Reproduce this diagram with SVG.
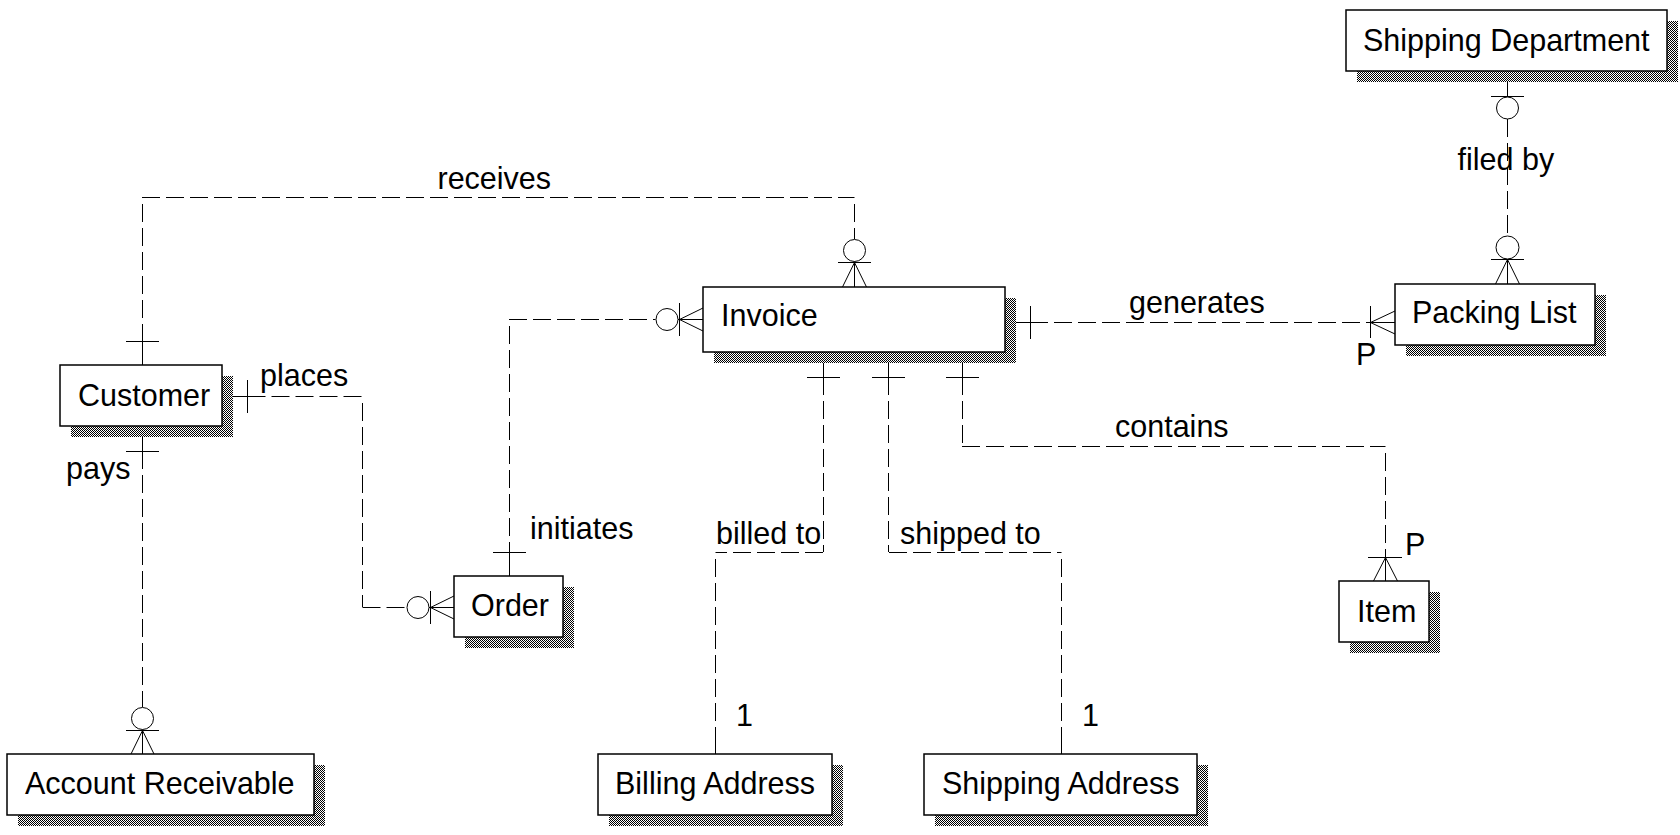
<svg xmlns="http://www.w3.org/2000/svg" width="1680" height="835" viewBox="0 0 1680 835">
<style>
text{font-family:"Liberation Sans",Arial,sans-serif;font-size:30.5px;fill:#000}
.box{fill:#fff;stroke:#000;stroke-width:1.5}
.sh{fill:url(#dither)}
.d{fill:none;stroke:#000;stroke-width:1;stroke-dasharray:18 6}
.s{fill:none;stroke:#000;stroke-width:1}
</style>
<defs>
<pattern id="dither" width="2" height="2" patternUnits="userSpaceOnUse">
<rect width="2" height="2" fill="#fff"/>
<rect width="1" height="1" fill="#000"/>
<rect x="1" y="1" width="1" height="1" fill="#000"/>
</pattern>
</defs>
<rect width="1680" height="835" fill="#fff"/>

<g id="connectors">
<g id="rel-receives">
<path class="d" d="M142.5,204 V341 M142,197.5 H854.5 M854.5,204 V239"/>
<path class="s" d="M142.5,341 V365 M126,341.5 H159"/>
<circle class="s" cx="854.5" cy="250.5" r="11"/>
<path class="s" d="M838,262.5 H871 M854.5,261.5 V287 M854.5,262.5 L842.5,287 M854.5,262.5 L866.5,287"/>
</g>
<g id="rel-places">
<path class="s" d="M222,396.5 H247.5 M247.5,380 V413"/>
<path class="d" d="M247.5,396.5 H362.5 M362.5,403 V607 M362.5,607.5 H406.5"/>
<circle class="s" cx="418" cy="607.5" r="11"/>
<path class="s" d="M430.5,591 V624 M429,607.5 H454 M430.5,607.5 L454,596 M430.5,607.5 L454,619"/>
</g>
<g id="rel-pays">
<path class="s" d="M142.5,426 V451 M126,451.5 H159"/>
<path class="d" d="M142.5,451 V707"/>
<circle class="s" cx="142.5" cy="718.5" r="11"/>
<path class="s" d="M126,730.5 H159 M142.5,729.5 V754 M142.5,730.5 L131,754 M142.5,730.5 L154,754"/>
</g>
<g id="rel-initiates">
<path class="s" d="M509.5,576 V552 M493,552.5 H526"/>
<path class="d" d="M509.5,326 V552 M509,319.5 H655.5"/>
<circle class="s" cx="667" cy="319.5" r="11"/>
<path class="s" d="M679.5,303 V336 M678,319.5 H703 M679.5,319.5 L703,308 M679.5,319.5 L703,331"/>
</g>
<g id="rel-generates">
<path class="s" d="M1005,322.5 H1030 M1030.5,306 V339"/>
<path class="d" d="M1030,322.5 H1370"/>
<path class="s" d="M1370.5,306 V338 M1370,322.5 H1395 M1370.5,322.5 L1395,311 M1370.5,322.5 L1395,334"/>
</g>
<g id="rel-filedby">
<path class="s" d="M1507.5,71 V97 M1491,96.5 H1524"/>
<circle class="s" cx="1507.5" cy="108" r="11"/>
<path class="d" d="M1507.5,119 V236"/>
<circle class="s" cx="1507.5" cy="247.5" r="11.5"/>
<path class="s" d="M1491,259.5 H1524 M1507.5,259 V284 M1507.5,259.5 L1495.5,284 M1507.5,259.5 L1519.5,284"/>
</g>
<g id="rel-billedto">
<path class="s" d="M823.5,352 V377 M807,377.5 H840"/>
<path class="d" d="M823.5,377 V552 M823,552.5 H715.5 M715.5,559 V728"/>
<path class="s" d="M715.5,728 V754"/>
</g>
<g id="rel-shippedto">
<path class="s" d="M888.5,352 V377 M872,377.5 H905"/>
<path class="d" d="M888.5,377 V552 M889,552.5 H1061.5 M1061.5,559 V728"/>
<path class="s" d="M1061.5,728 V754"/>
</g>
<g id="rel-contains">
<path class="s" d="M962.5,352 V377 M946,377.5 H979"/>
<path class="d" d="M962.5,377 V446 M962,446.5 H1385.5 M1385.5,453 V557"/>
<path class="s" d="M1368,557.5 H1402 M1385.5,557 V581 M1385.5,557.5 L1373.5,581 M1385.5,557.5 L1397.5,581"/>
</g>
<g id="labels">
<text x="437.5" y="189">receives</text>
<text x="260" y="386">places</text>
<text x="66" y="479">pays</text>
<text x="530" y="539">initiates</text>
<text x="716" y="544">billed to</text>
<text x="900" y="544">shipped to</text>
<text x="736" y="726">1</text>
<text x="1082" y="726">1</text>
<text x="1115" y="437">contains</text>
<text x="1129" y="313">generates</text>
<text x="1356" y="365">P</text>
<text x="1405" y="555">P</text>
<text x="1457.5" y="170">filed by</text>
</g>
</g>

<g id="node-shipping-department">
<rect class="sh" x="1357" y="21" width="321" height="61"/>
<rect class="box" x="1346" y="10" width="321" height="61"/>
<text x="1363" y="51">Shipping Department</text>
</g>
<g id="node-packing-list">
<rect class="sh" x="1406" y="295" width="200" height="61"/>
<rect class="box" x="1395" y="284" width="200" height="61"/>
<text x="1412" y="323">Packing List</text>
</g>
<g id="node-invoice">
<rect class="sh" x="714" y="298" width="302" height="65"/>
<rect class="box" x="703" y="287" width="302" height="65"/>
<text x="721" y="326">Invoice</text>
</g>
<g id="node-customer">
<rect class="sh" x="71" y="376" width="162" height="61"/>
<rect class="box" x="60" y="365" width="162" height="61"/>
<text x="78" y="406">Customer</text>
</g>
<g id="node-order">
<rect class="sh" x="465" y="587" width="109" height="61"/>
<rect class="box" x="454" y="576" width="109" height="61"/>
<text x="471" y="616">Order</text>
</g>
<g id="node-account-receivable">
<rect class="sh" x="18" y="765" width="307" height="61"/>
<rect class="box" x="7" y="754" width="307" height="61"/>
<text x="25" y="794">Account Receivable</text>
</g>
<g id="node-billing-address">
<rect class="sh" x="609" y="765" width="234" height="61"/>
<rect class="box" x="598" y="754" width="234" height="61"/>
<text x="615" y="794">Billing Address</text>
</g>
<g id="node-shipping-address">
<rect class="sh" x="935" y="765" width="273" height="61"/>
<rect class="box" x="924" y="754" width="273" height="61"/>
<text x="942" y="794">Shipping Address</text>
</g>
<g id="node-item">
<rect class="sh" x="1350" y="592" width="90" height="61"/>
<rect class="box" x="1339" y="581" width="90" height="61"/>
<text x="1357" y="622">Item</text>
</g>
</svg>
